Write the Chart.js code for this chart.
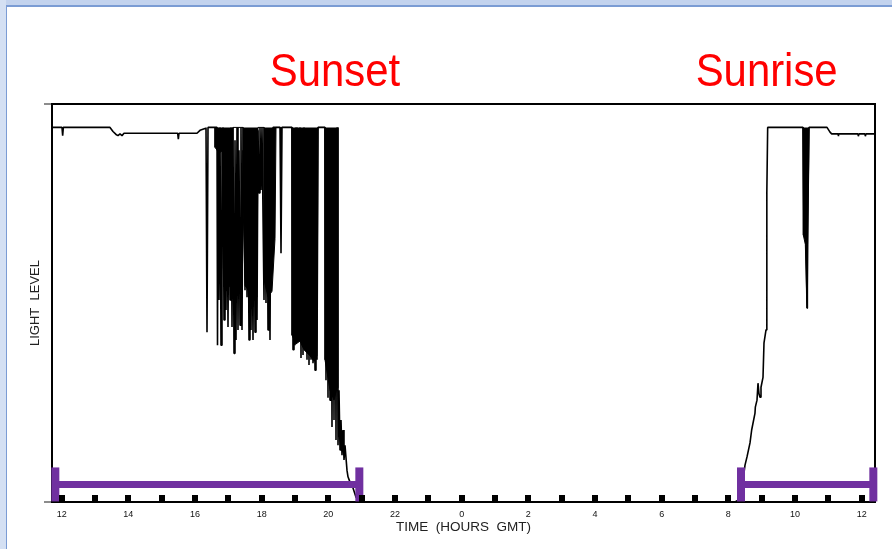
<!DOCTYPE html>
<html>
<head>
<meta charset="utf-8">
<script src="https://cdn.jsdelivr.net/npm/chart.js@4/dist/chart.umd.min.js"></script>
<style>
  html, body { margin: 0; padding: 0; background: #fff; overflow: hidden; }
  #wrap { position: relative; width: 892px; height: 549px; }
  .band-top { position: absolute; left: 0; top: 0; width: 892px; height: 5px; background: #c3d3ee; }
  .line-top { position: absolute; left: 6px; top: 5px; width: 886px; height: 2px; background: #7b9cd4; }
  .band-left { position: absolute; left: 0; top: 0; width: 6px; height: 549px; background: #d4e0f3; }
  .line-left { position: absolute; left: 6px; top: 5px; width: 1px; height: 544px; background: #7b9cd4; }
  #chartBox { position: absolute; left: 0; top: 0; width: 892px; height: 549px; }
</style>
</head>
<body>
<div id="wrap">
  <div class="band-top"></div>
  <div class="band-left"></div>
  <div class="line-top"></div>
  <div class="line-left"></div>
  <div id="chartBox"><canvas id="lightChart"></canvas></div>
</div>
<script>
// time in hours GMT (values past 24 are the next morning), light level 0-68
const traceHours = [
  11.71, 12.01, 12.03, 12.05, 13.45, 13.54, 13.63, 13.69, 13.75, 13.81, 13.87, 13.96,
  15.48, 15.50, 15.52, 16.06, 16.15, 16.30,
  // sunset
  16.33, 16.36, 16.39, 16.51, 16.66, 16.675, 16.69, 16.72, 16.75, 16.78, 16.81, 16.84,
  16.87, 16.90, 16.93, 16.96, 16.99, 17.02, 17.05, 17.08, 17.11, 17.14, 17.17, 17.20,
  17.23, 17.26, 17.29, 17.32, 17.35, 17.38, 17.41, 17.44, 17.47, 17.50, 17.53, 17.56,
  17.59, 17.62, 17.65, 17.68, 17.71, 17.74, 17.77, 17.80, 17.83, 17.86, 17.89, 17.92,
  17.95, 17.98, 18.01, 18.04, 18.07, 18.10, 18.13, 18.16, 18.19, 18.22, 18.25, 18.28,
  18.31, 18.34, 18.55, 18.58, 18.61, 18.91, 18.94, 18.97, 19.00, 19.03, 19.06, 19.09,
  19.12, 19.15, 19.18, 19.21, 19.24, 19.27, 19.30, 19.33, 19.36, 19.39, 19.42, 19.45,
  19.48, 19.51, 19.54, 19.57, 19.60, 19.63, 19.66, 19.69, 19.90, 19.93, 19.96, 19.99,
  20.02, 20.05, 20.08, 20.11, 20.14, 20.17, 20.20, 20.23, 20.26, 20.29, 20.32, 20.35,
  20.38, 20.41, 20.44, 20.47, 20.50, 20.56, 20.59, 20.65, 20.74, 20.83, 20.92, 21.01,
  // night
  32.20,
  // sunrise
  32.29, 32.38, 32.44, 32.50, 32.56, 32.65, 32.70, 32.80, 32.81, 32.86, 32.89, 32.92,
  32.95, 32.98, 33.04, 33.07, 33.13, 33.15, 33.16, 33.18,
  34.24, 34.27, 34.30, 34.33, 34.36, 34.39, 34.42,
  34.96, 35.05, 35.10, 35.29, 35.30, 35.31, 35.89, 35.90, 35.92, 36.10, 36.11, 36.13, 36.40
];
const traceLevel = [
  64, 64, 62.6, 64, 64, 63.3, 62.8, 62.6, 62.9, 62.6, 63, 63,
  63, 62, 63, 63, 63.5, 63.8,
  64, 29.0, 64, 64, 64, 26.8, 61.8, 34.5, 64, 26.8, 60.1, 64,
  31.1, 62.7, 32.8, 60.1, 29.9, 61.8, 34.5, 64, 29.9, 64, 25.4, 61.8,
  27.7, 64, 29.4, 60.1, 30.2, 64, 29.4, 60.1, 55.0, 36.2, 63.5, 35.0,
  55.0, 27.7, 61.8, 29.4, 51.6, 27.7, 60.1, 29.0, 55.0, 31.1, 63.5, 52.8,
  64, 53.3, 64, 64, 34.5, 58.4, 34.0, 63.5, 29.4, 55.0, 27.7, 61.8,
  43.0, 64, 64, 42.5, 64, 64, 26.0, 61.8, 26.8, 64, 29.4, 60.1,
  27.7, 64, 24.6, 58.4, 25.1, 64, 26.0, 51.6, 24.3, 61.8, 23.4, 55.0,
  24.3, 63.5, 23.7, 43.0, 22.5, 60.1, 24.3, 64, 64, 20.8, 61.8, 17.8,
  63.5, 17.4, 60.1, 12.8, 61.8, 14.0, 63.5, 10.6, 64, 9.7, 19.1, 8.9,
  14.0, 8.0, 12.3, 7.2, 9.7, 5.4, 4.3, 3.4, 2.4, 0.8, 0.2, 0,
  0,
  0.3, 1.7, 3.7, 6.3, 7.7, 10.1, 12.3, 15.2, 16.2, 17.4, 20.3, 18.5,
  17.9, 19.6, 21.3, 27.2, 29.4, 31.6, 52.8, 64,
  64, 45.5, 63.5, 44.8, 33.1, 51.6, 64,
  64, 63.2, 62.9, 62.9, 62.5, 62.9, 62.9, 62.5, 62.9, 62.9, 62.5, 62.9, 62.9
];

// where the trace is so dense it reads as solid black (lower envelope)
const denseHours = [
  16.60, 16.60, 16.72, 16.84, 16.85, 16.93, 17.05, 17.11, 17.14,
  17.44, 17.44, 17.50, 17.62, 17.74, 17.86, 17.89,
  18.07, 18.07, 18.19, 18.31, 18.40, 18.43,
  18.91, 18.91, 19.03, 19.15, 19.27, 19.45, 19.57, 19.66, 19.69,
  19.90, 19.90, 20.05, 20.17, 20.26, 20.29,
  25.00,
  34.24, 34.25, 34.31, 34.36, 34.38, 34.41, 34.42
];
const denseLevel = [
  64, 60.6, 59.6, 60.1, 40, 36, 37, 45, 64,
  64, 51.6, 37, 36, 38, 35, 64,
  64, 38, 35, 36, 45, 64,
  64, 28.5, 27, 27.5, 26, 25, 24, 25, 64,
  64, 24.3, 19.1, 17.4, 19.5, 64,
  null,
  64, 45.6, 44, 33.1, 44, 58, 64
];

// purple day bars
const barStart = [11.81, 32.38];
const barEnd = [20.93, 36.35];
const barLevel = 3.0;

const tickHours = [12, 13, 14, 15, 16, 17, 18, 19, 20, 21, 22, 23, 24,
  25, 26, 27, 28, 29, 30, 31, 32, 33, 34, 35, 36];
const levelTicks = [0, 68];

const eventNames = ["Sunset", "Sunrise"];
const eventHours = [20.2, 33.15];

Chart.defaults.font.family = '"Liberation Sans", Arial, sans-serif';

const hourMarks = {
  id: "hourMarks",
  afterDraw(chart) {
    const xs = chart.scales.x;
    const ctx = chart.ctx;
    ctx.save();
    ctx.fillStyle = "#000";
    xs.ticks.forEach(t => {
      const px = Math.round(xs.getPixelForValue(t.value));
      ctx.fillRect(px - 3, xs.top - 7, 6, 7);
    });
    ctx.restore();
  }
};

const sunLabels = {
  id: "sunLabels",
  afterDraw(chart) {
    const xs = chart.scales.x;
    const ctx = chart.ctx;
    ctx.save();
    ctx.fillStyle = "#ff0000";
    ctx.font = '46px "Liberation Sans", Arial, sans-serif';
    ctx.textAlign = "center";
    ctx.textBaseline = "alphabetic";
    eventNames.forEach((name, i) => {
      ctx.save();
      ctx.translate(xs.getPixelForValue(eventHours[i]), 86);
      ctx.scale(0.91, 1);
      ctx.fillText(name, 0, 0);
      ctx.restore();
    });
    ctx.restore();
  }
};

const purple = "#7030a0";
const barSets = barStart.map((s, i) => ({
  data: [{ x: s, y: barLevel }, { x: barEnd[i], y: barLevel }],
  borderColor: purple,
  borderWidth: 7,
  pointStyle: "line",
  pointRotation: 90,
  pointRadius: 17,
  pointHoverRadius: 17,
  pointBorderWidth: 8,
  pointBorderColor: purple,
  pointBackgroundColor: purple,
  clip: false
}));

const ctx = document.getElementById("lightChart").getContext("2d");
new Chart(ctx, {
  type: "line",
  data: {
    datasets: [
      ...barSets,
      {
        data: traceHours.map((h, i) => ({ x: h, y: traceLevel[i] })),
        borderColor: "#000",
        borderWidth: 1.6,
        borderJoinStyle: "bevel",
        pointRadius: 0,
        pointHoverRadius: 0,
        tension: 0
      },
      {
        data: denseHours.map((h, i) => ({ x: h, y: denseLevel[i] })),
        borderColor: "#000",
        backgroundColor: "#000",
        borderWidth: 1,
        fill: { target: { value: 64 } },
        spanGaps: false,
        pointRadius: 0,
        pointHoverRadius: 0,
        tension: 0
      }
    ]
  },
  options: {
    responsive: true,
    maintainAspectRatio: false,
    animation: false,
    layout: { padding: 0, autoPadding: false },
    plugins: { legend: { display: false }, tooltip: { enabled: false } },
    scales: {
      x: {
        type: "linear",
        position: "bottom",
        min: 11.71,
        max: 36.4,
        afterBuildTicks: s => { s.ticks = tickHours.map(v => ({ value: v })); },
        afterFit: s => { s.height = 47; },
        ticks: {
          autoSkip: false,
          maxRotation: 0,
          padding: 7,
          color: "#111",
          font: { size: 9 },
          callback: v => (v % 2 === 0 ? String(v % 24) : "")
        },
        grid: { display: false, drawTicks: false },
        border: { color: "#000", width: 2 },
        title: {
          display: true,
          text: "TIME  (HOURS  GMT)",
          color: "#222",
          font: { size: 13.5 },
          padding: { top: 0, bottom: 13.4 }
        }
      },
      x2: {
        type: "linear",
        position: "top",
        min: 11.71,
        max: 36.4,
        afterFit: s => { s.height = 104; },
        ticks: { display: false },
        grid: { display: false, drawTicks: false },
        border: { color: "#000", width: 2 }
      },
      y: {
        type: "linear",
        position: "left",
        min: 0,
        max: 68,
        afterBuildTicks: s => { s.ticks = levelTicks.map(v => ({ value: v })); },
        afterFit: s => { s.width = 52; },
        ticks: { display: false },
        grid: {
          display: true,
          drawOnChartArea: false,
          drawTicks: true,
          tickLength: 8,
          color: "#8c8c8c",
          lineWidth: 2
        },
        border: { color: "#000", width: 2 },
        title: {
          display: true,
          text: "LIGHT  LEVEL",
          color: "#222",
          font: { size: 13 },
          padding: { top: 27.5, bottom: 0 }
        }
      },
      y2: {
        type: "linear",
        position: "right",
        min: 0,
        max: 68,
        afterFit: s => { s.width = 17; },
        ticks: { display: false },
        grid: { display: false, drawTicks: false },
        border: { color: "#000", width: 2 }
      }
    }
  },
  plugins: [hourMarks, sunLabels]
});
</script>
</body>
</html>
